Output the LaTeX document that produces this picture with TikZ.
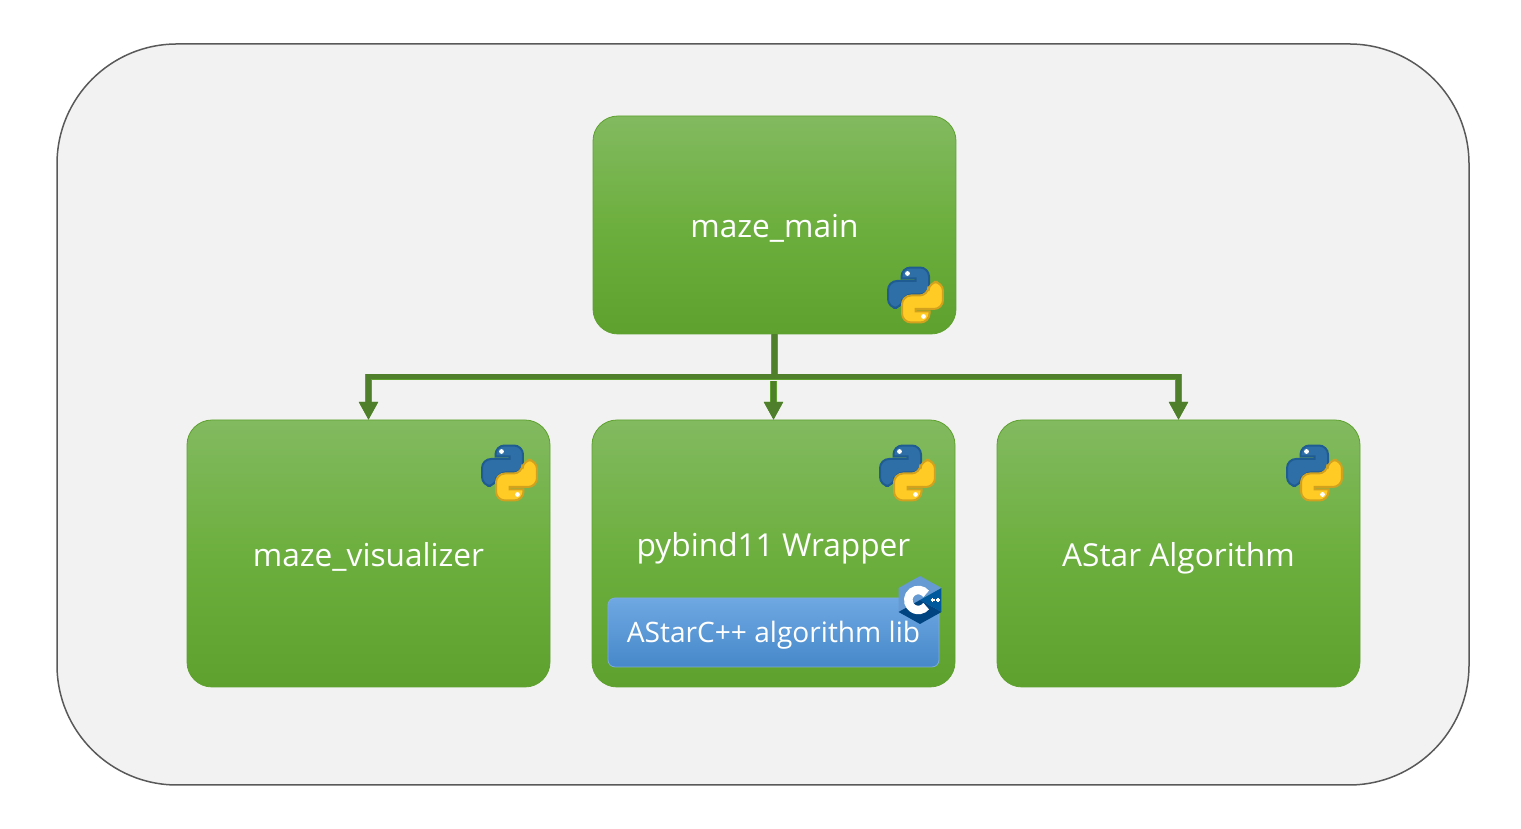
\documentclass[tikz,border=0pt]{standalone}
\usepackage{fontspec}
\setmainfont{Open Sans}
\usetikzlibrary{positioning, arrows.meta, calc}
\definecolor{panelgray}{HTML}{F2F2F2}
\definecolor{panelline}{HTML}{595959}
\definecolor{boxtop}{HTML}{82BA60}
\definecolor{boxmid}{HTML}{6DAF3E}
\definecolor{boxbottom}{HTML}{5EA12E}
\definecolor{linkgreen}{HTML}{4F7F2B}
\definecolor{libtop}{HTML}{6FA8E2}
\definecolor{libbottom}{HTML}{4688CA}
\definecolor{pyblue}{HTML}{2F6FA8}
\definecolor{pybluedark}{HTML}{1F5C92}
\definecolor{pyyellow}{HTML}{FFCB24}
\definecolor{pyyellowdark}{HTML}{D2A21F}
\definecolor{cpplight}{HTML}{659AD2}
\definecolor{cppmid}{HTML}{00599C}
\definecolor{cppdark}{HTML}{004482}
\tikzset{
  modbox/.style={draw=boxbottom, line width=0.08mm, outer sep=0pt, rounded corners=0.25cm, minimum width=3.63cm,
    top color=boxtop, bottom color=boxbottom, middle color=boxmid, text=white, text height=0.26cm, text depth=0cm,
    font=\fontsize{9}{11}\selectfont},
  libbox/.style={draw=libbottom!70!white, line width=0.08mm, outer sep=0pt, rounded corners=0.07cm, minimum width=3.31cm, minimum height=0.69cm,
    top color=libtop, bottom color=libbottom, text=white, inner sep=0pt, text height=0.21cm, text depth=0cm,
    font=\fontsize{8}{10}\selectfont},
  link/.style={linkgreen, line width=0.05cm, preaction={draw=boxbottom, line width=0.065cm}},
  linktip/.style={-{Triangle[length=0.18cm,width=0.18cm]}},
  pylogo/.pic={
    \begin{scope}[x=0.01cm, y=0.01cm]
      % Serpente blu e giallo
      \foreach \fillc/\linec/\ang in {pyblue/pybluedark/0, pyyellow/pyyellowdark/180}{
        \begin{scope}[rotate=\ang]
          \draw[fill=\fillc, draw=\linec, line width=0.2mm, rounded corners=0.09cm]
            (-14,16.5) -- (-14,27.5) -- (13.5,27.5) -- (13.5,0.5) -- (-13,0.5) -- (-13,-13) -- (-27.5,-13) -- (-27.5,14)
            [sharp corners] -- (0,14) -- (0,16.5) -- cycle;
          \fill[white] (-8,21.5) circle (2.4);
        \end{scope}
      }
    \end{scope}
  },
  cpplogo/.pic={
    \begin{scope}[x=0.01cm, y=0.01cm]
      \fill[cpplight] (0,0) -- (21.5,12) -- (0,24) -- (-21.5,12) -- (-21.5,-12) -- cycle;
      \fill[cppmid] (0,0) -- (21.5,12) -- (21.5,-12) -- cycle;
      \fill[cppdark] (0,0) -- (21.5,-12) -- (0,-24) -- (-21.5,-12) -- cycle;
      % Anello della C
      \draw[white, line width=0.085cm] (-1.7,0) ++(38:10) arc (38:322:10);
      % Segni piu
      \foreach \plusx in {12.5,18}{
        \draw[white, line width=0.12mm] (\plusx-2,0) -- (\plusx+2,0) (\plusx,-2) -- (\plusx,2);
      }
    \end{scope}
  }
}
\begin{document}
\begin{tikzpicture}
  \useasboundingbox (0,0) rectangle (15.21,8.29);

  % Pannello di sfondo
  \draw[fill=panelgray, draw=panelline, line width=0.15mm, rounded corners=1.2cm] (0.57,0.44) rectangle (14.69,7.85);

  % Moduli
  \node[modbox, minimum height=2.18cm] (main) at (7.745,6.04) {maze\_main};
  \node[modbox, minimum height=2.67cm, below=0.86cm of main, xshift=-0.01cm] (wrapper) {};
  \node[modbox, minimum height=2.67cm, left=0.42cm of wrapper] (visualizer) {maze\_visualizer};
  \node[modbox, minimum height=2.67cm, right=0.42cm of wrapper] (astar) {AStar Algorithm};
  \node[text=white, font=\fontsize{9}{11}\selectfont, inner sep=0pt] (wrappertext) at ($(wrapper.center)+(0,0.05)$) {pybind11 Wrapper};
  \node[libbox, above=0.2cm of wrapper.south] (lib) {AStarC++ algorithm lib};

  % Frecce
  \coordinate (bus) at ($(main.south)+(0,-0.43)$);
  \draw[link, linktip] ($(wrapper.north |- bus)+(0,-0.045)$) -- (wrapper.north);
  \draw[link] (main.south) -- (bus);
  \draw[link, linktip] (bus) -| (visualizer.north);
  \draw[link, linktip] (bus) -| (astar.north);

  % Loghi
  \pic at (9.155,5.34) {pylogo};
  \pic at (5.095,3.56) {pylogo};
  \pic at (9.075,3.56) {pylogo};
  \pic at (13.145,3.56) {pylogo};
  \pic at (9.2,2.29) {cpplogo};
\end{tikzpicture}
\end{document}
